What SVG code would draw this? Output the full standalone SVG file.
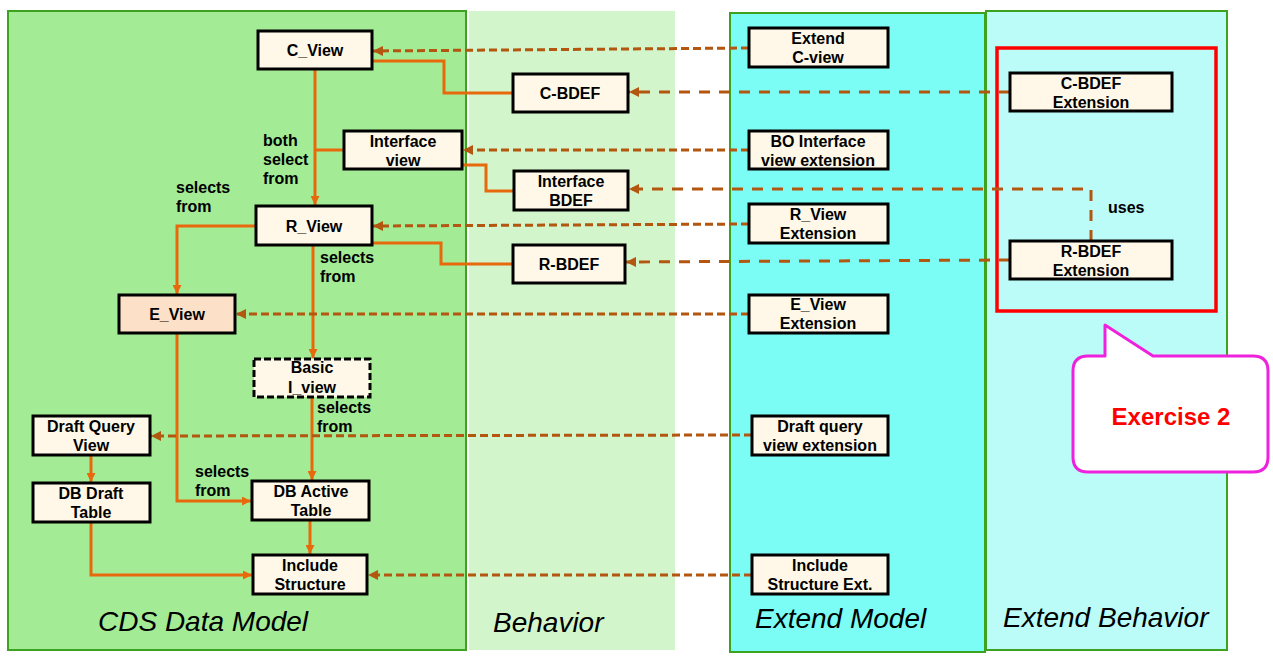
<svg xmlns="http://www.w3.org/2000/svg" width="1273" height="660" viewBox="0 0 1273 660">
<style>
.node rect{fill:#fff8e8;stroke:#000;stroke-width:3}
.node text,.lbl{font-family:"Liberation Sans",Arial,sans-serif;font-weight:bold;font-size:16px;fill:#000}
.node text{text-anchor:middle}
.title{font-family:"Liberation Sans",Arial,sans-serif;font-style:italic;font-size:28px;fill:#000}
.sol{fill:none;stroke:#e8680c;stroke-width:3}
.dash{fill:none;stroke:#b3560f;stroke-width:3;stroke-dasharray:8 4}
.dash2{fill:none;stroke:#b3560f;stroke-width:3;stroke-dasharray:11 9}
</style>
<defs>
<marker id="ao" viewBox="0 0 10 10" refX="10" refY="5" markerWidth="9" markerHeight="9" markerUnits="userSpaceOnUse" orient="auto"><path d="M0,0 L10,5 L0,10 z" fill="#e8680c"/></marker>
<marker id="ab" viewBox="0 0 10 10" refX="10" refY="5" markerWidth="10" markerHeight="10" markerUnits="userSpaceOnUse" orient="auto"><path d="M0,0 L10,5 L0,10 z" fill="#b3560f"/></marker>
</defs>
<rect width="1273" height="660" fill="#fff"/>
<g id="panels">
<rect x="8" y="11" width="458" height="639" fill="#a4eb95" stroke="#3ca21f" stroke-width="2"/>
<rect x="469" y="11" width="206" height="639" fill="#d3f5cb"/>
<rect x="730" y="13" width="255" height="639" fill="#7bfdf6" stroke="#3ca21f" stroke-width="2"/>
<rect x="986" y="11" width="241" height="639" fill="#bbfcf9" stroke="#3ca21f" stroke-width="2"/>
<rect x="997" y="48" width="219" height="263" fill="none" stroke="#ff0000" stroke-width="3.5"/>
<text class="title" x="98" y="631">CDS Data Model</text>
<text class="title" x="493" y="632">Behavior</text>
<text class="title" x="755" y="628">Extend Model</text>
<text class="title" x="1003" y="627">Extend Behavior</text>
</g>
<g id="connectors">
<path class="sol" d="M315,70 V205" marker-end="url(#ao)"/>
<path class="sol" d="M344,150 H315"/>
<path class="sol" d="M372,61 H444 V93 H513"/>
<path class="sol" d="M462,165 H486 V191 H514"/>
<path class="sol" d="M372,243 H441 V264 H513"/>
<path class="sol" d="M256,226 H177 V294" marker-end="url(#ao)"/>
<path class="sol" d="M313,245 V358" marker-end="url(#ao)"/>
<path class="sol" d="M312,397 V480" marker-end="url(#ao)"/>
<path class="sol" d="M177,333 V501 H251" marker-end="url(#ao)"/>
<path class="sol" d="M91,455 V482" marker-end="url(#ao)"/>
<path class="sol" d="M91,522 V575 H252" marker-end="url(#ao)"/>
<path class="sol" d="M310,520 V554" marker-end="url(#ao)"/>
<path class="dash" d="M749,48 L373,51" marker-end="url(#ab)"/>
<path class="dash2" d="M1010,92 H629" marker-end="url(#ab)"/>
<path class="dash" d="M749,150 H463" marker-end="url(#ab)"/>
<path class="dash2" d="M1091,241 V189 H629" marker-end="url(#ab)"/>
<path class="dash" d="M749,224 L373,226" marker-end="url(#ab)"/>
<path class="dash2" d="M1010,260 L626,262" marker-end="url(#ab)"/>
<path class="dash" d="M749,314 H236" marker-end="url(#ab)"/>
<path class="dash" d="M752,435 L151,436" marker-end="url(#ab)"/>
<path class="dash" d="M752,575 H368" marker-end="url(#ab)"/>
<text class="lbl" x="263" y="146">both</text>
<text class="lbl" x="263" y="165">select</text>
<text class="lbl" x="263" y="184">from</text>
<text class="lbl" x="176" y="193">selects</text>
<text class="lbl" x="176" y="212">from</text>
<text class="lbl" x="320" y="263">selects</text>
<text class="lbl" x="320" y="282">from</text>
<text class="lbl" x="317" y="413">selects</text>
<text class="lbl" x="317" y="432">from</text>
<text class="lbl" x="195" y="477">selects</text>
<text class="lbl" x="195" y="496">from</text>
<text class="lbl" x="1108" y="213">uses</text>
</g>
<g id="n-cview" class="node"><rect x="258" y="31" width="114" height="38"/><text x="315" y="56">C_View</text></g>
<g id="n-cbdef" class="node"><rect x="513" y="74" width="115" height="38"/><text x="570" y="99">C-BDEF</text></g>
<g id="n-iview" class="node"><rect x="344" y="131" width="118" height="38"/><text x="403" y="147">Interface</text><text x="403" y="166">view</text></g>
<g id="n-ibdef" class="node"><rect x="514" y="171" width="114" height="39"/><text x="571" y="187">Interface</text><text x="571" y="206">BDEF</text></g>
<g id="n-rview" class="node"><rect x="256" y="206" width="116" height="39"/><text x="314" y="232">R_View</text></g>
<g id="n-rbdef" class="node"><rect x="513" y="245" width="112" height="38"/><text x="569" y="270">R-BDEF</text></g>
<g id="n-eview" class="node"><rect x="119" y="295" width="116" height="38" style="fill:#fde0c8"/><text x="177" y="320">E_View</text></g>
<g id="n-basic" class="node"><rect x="254" y="359" width="116" height="38" style="stroke-dasharray:7 3"/><text x="312" y="373">Basic</text><text x="312" y="393">I_view</text></g>
<g id="n-dqv" class="node"><rect x="33" y="416" width="117" height="39"/><text x="91" y="432">Draft Query</text><text x="91" y="451">View</text></g>
<g id="n-dbdraft" class="node"><rect x="33" y="483" width="117" height="39"/><text x="91" y="499">DB Draft</text><text x="91" y="518">Table</text></g>
<g id="n-dbactive" class="node"><rect x="252" y="481" width="117" height="39"/><text x="311" y="497">DB Active</text><text x="311" y="516">Table</text></g>
<g id="n-incl" class="node"><rect x="253" y="555" width="114" height="39"/><text x="310" y="571">Include</text><text x="310" y="590">Structure</text></g>
<g id="n-extc" class="node"><rect x="749" y="28" width="139" height="39"/><text x="818" y="44">Extend</text><text x="818" y="63">C-view</text></g>
<g id="n-boext" class="node"><rect x="749" y="131" width="139" height="38"/><text x="818" y="147">BO Interface</text><text x="818" y="166">view extension</text></g>
<g id="n-rext" class="node"><rect x="749" y="204" width="139" height="39"/><text x="818" y="220">R_View</text><text x="818" y="239">Extension</text></g>
<g id="n-eext" class="node"><rect x="749" y="295" width="139" height="38"/><text x="818" y="310">E_View</text><text x="818" y="329">Extension</text></g>
<g id="n-dqext" class="node"><rect x="752" y="416" width="136" height="39"/><text x="820" y="432">Draft query</text><text x="820" y="451">view extension</text></g>
<g id="n-inclext" class="node"><rect x="752" y="555" width="136" height="39"/><text x="820" y="571">Include</text><text x="820" y="590">Structure Ext.</text></g>
<g id="n-cbdefext" class="node"><rect x="1010" y="73" width="162" height="38"/><text x="1091" y="89">C-BDEF</text><text x="1091" y="108">Extension</text></g>
<g id="n-rbdefext" class="node"><rect x="1010" y="241" width="162" height="38"/><text x="1091" y="257">R-BDEF</text><text x="1091" y="276">Extension</text></g>
<g id="callout">
<path d="M1088,356 H1105 V325 L1153,356 H1253 Q1268,356 1268,371 V457 Q1268,472 1253,472 H1088 Q1073,472 1073,457 V371 Q1073,356 1088,356 Z" fill="#fff" stroke="#ee22dd" stroke-width="3" stroke-linejoin="round"/>
<text x="1171" y="425" text-anchor="middle" font-family="'Liberation Sans',Arial,sans-serif" font-weight="bold" font-size="24px" fill="#ff0000">Exercise 2</text>
</g>
</svg>
